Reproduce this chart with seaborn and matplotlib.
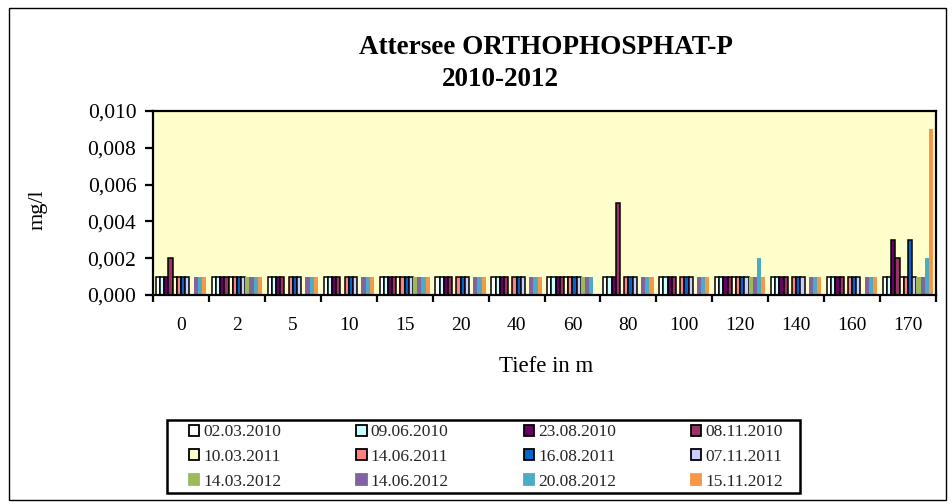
import numpy as np
import pandas as pd
import matplotlib
matplotlib.use("Agg")
import matplotlib.pyplot as plt
import seaborn as sns
from matplotlib.patches import Patch, Rectangle
from matplotlib.ticker import FuncFormatter, FixedLocator

sns.set_theme(style="white")
plt.rcParams["font.family"] = ["Liberation Serif", "DejaVu Serif"]

n = np.nan
depths = ["0", "2", "5", "10", "15", "20", "40", "60", "80", "100", "120", "140", "160", "170"]
dates = ["02.03.2010", "09.06.2010", "23.08.2010", "08.11.2010",
         "10.03.2011", "14.06.2011", "16.08.2011", "07.11.2011",
         "14.03.2012", "14.06.2012", "20.08.2012", "15.11.2012"]
colors = ["#FFFFFF", "#CCFFFF", "#660066", "#993366",
          "#FFFFCC", "#FF8080", "#0066CC", "#CCCCFF",
          "#9BBB59", "#8064A2", "#4BACC6", "#F79646"]

v_02_03_2010 = [0.001, 0.001, 0.001, 0.001, 0.001, 0.001, 0.001, 0.001, 0.001, 0.001, 0.001, 0.001, 0.001, 0.001]
v_09_06_2010 = [0.001, 0.001, 0.001, 0.001, 0.001, 0.001, 0.001, 0.001, 0.001, 0.001, 0.001, 0.001, 0.001, 0.001]
v_23_08_2010 = [0.001, 0.001, 0.001, 0.001, 0.001, 0.001, 0.001, 0.001, 0.001, 0.001, 0.001, 0.001, 0.001, 0.003]
v_08_11_2010 = [0.002, 0.001, 0.001, 0.001, 0.001, 0.001, 0.001, 0.001, 0.005, 0.001, 0.001, 0.001, 0.001, 0.002]
v_10_03_2011 = [0.001, 0.001, n, n, 0.001, n, n, 0.001, n, n, 0.001, n, n, 0.001]
v_14_06_2011 = [0.001, 0.001, 0.001, 0.001, 0.001, 0.001, 0.001, 0.001, 0.001, 0.001, 0.001, 0.001, 0.001, 0.001]
v_16_08_2011 = [0.001, 0.001, 0.001, 0.001, 0.001, 0.001, 0.001, 0.001, 0.001, 0.001, 0.001, 0.001, 0.001, 0.003]
v_07_11_2011 = [0.001, 0.001, 0.001, 0.001, 0.001, 0.001, 0.001, 0.001, 0.001, 0.001, 0.001, 0.001, 0.001, 0.001]
v_14_03_2012 = [n, 0.001, n, n, 0.001, n, n, 0.001, n, n, 0.001, n, n, 0.001]
v_14_06_2012 = [0.001, 0.001, 0.001, 0.001, 0.001, 0.001, 0.001, 0.001, 0.001, 0.001, 0.001, 0.001, 0.001, 0.001]
v_20_08_2012 = [0.001, 0.001, 0.001, 0.001, 0.001, 0.001, 0.001, 0.001, 0.001, 0.001, 0.002, 0.001, 0.001, 0.002]
v_15_11_2012 = [0.001, 0.001, 0.001, 0.001, 0.001, 0.001, 0.001, n, 0.001, 0.001, 0.001, 0.001, 0.001, 0.009]

series = [v_02_03_2010, v_09_06_2010, v_23_08_2010, v_08_11_2010,
          v_10_03_2011, v_14_06_2011, v_16_08_2011, v_07_11_2011,
          v_14_03_2012, v_14_06_2012, v_20_08_2012, v_15_11_2012]

rows = []
for d, vals in zip(dates, series):
    for dep, v in zip(depths, vals):
        rows.append({"Tiefe": dep, "Datum": d, "Wert": v})
df = pd.DataFrame(rows)

W, H = 952, 504
fig = plt.figure(figsize=(W / 100, H / 100), dpi=100)
fig.patch.set_facecolor("white")

L, R, T, B = 153, 936, 111, 295
ax = fig.add_axes([L / W, 1 - B / H, (R - L) / W, (B - T) / H])
ax.set_facecolor("#FFFFCC")

sns.barplot(data=df, x="Tiefe", y="Wert", hue="Datum", order=depths,
            hue_order=dates, palette=colors, width=0.9, saturation=1,
            errorbar=None, legend=False, ax=ax)

col_rgb = [matplotlib.colors.to_rgb(c) for c in colors]
for p in ax.patches:
    fc = p.get_facecolor()[:3]
    idx = int(np.argmin([sum((a - b) ** 2 for a, b in zip(fc, c)) for c in col_rgb]))
    if idx < 8:
        p.set_edgecolor("black")
        p.set_linewidth(1.1)
    else:
        p.set_edgecolor("none")
        p.set_linewidth(0)

ax.set_ylim(0, 0.010)
ax.set_xlim(-0.5, len(depths) - 0.5)
ax.set_yticks(np.arange(0, 0.0101, 0.002))
ax.yaxis.set_major_formatter(FuncFormatter(lambda v, p: f"{v:.3f}".replace(".", ",")))
ax.set_xlabel("")
ax.set_ylabel("")
ax.xaxis.set_minor_locator(FixedLocator(np.arange(-0.5, len(depths), 1.0)))
ax.tick_params(axis="x", which="major", length=0, pad=16, labelsize=14, colors="black")
ax.tick_params(axis="x", which="minor", length=5, width=1.6, direction="out", bottom=True, color="black")
ax.tick_params(axis="y", which="major", length=6, width=1.6, direction="out", left=True,
               pad=6, labelsize=15.5, colors="black")
for s in ax.spines.values():
    s.set_visible(True)
    s.set_color("black")
    s.set_linewidth(1.6)

fig.text(546 / W, 1 - 48 / H, "Attersee ORTHOPHOSPHAT-P", ha="center", va="center",
         fontsize=19.5, fontweight="bold", color="black")
fig.text(500 / W, 1 - 79 / H, "2010-2012", ha="center", va="center",
         fontsize=19.5, fontweight="bold", color="black")
fig.text(38 / W, 1 - 210 / H, "mg/l", rotation=90, ha="center", va="center",
         fontsize=16, color="black")
fig.text(546 / W, 1 - 366 / H, "Tiefe in m", ha="center", va="center",
         fontsize=16.5, color="black")

handles = [Patch(facecolor=c, edgecolor=("black" if i < 8 else c), linewidth=1.3)
           for i, c in enumerate(colors)]
order = [0, 4, 8, 1, 5, 9, 2, 6, 10, 3, 7, 11]
leg = fig.legend([handles[i] for i in order], [dates[i] for i in order],
                 ncol=4, loc="center", bbox_to_anchor=(486 / W, 1 - 457 / H),
                 frameon=False, fontsize=12.5,
                 handlelength=0.6, handleheight=0.6, handletextpad=0.25,
                 columnspacing=4.3, labelspacing=0.5, borderpad=0.2,
                 borderaxespad=0)

fig.patches.append(Rectangle((167 / W, 1 - 493 / H), (800 - 167) / W, (493 - 420) / H,
                             transform=fig.transFigure, fill=False,
                             edgecolor="black", linewidth=1.8))
fig.patches.append(Rectangle((9 / W, 4 / H), (946 - 9) / W, (496 - 4) / H,
                             transform=fig.transFigure, fill=False,
                             edgecolor="black", linewidth=1.0))

fig.savefig("out.png", dpi=100)
